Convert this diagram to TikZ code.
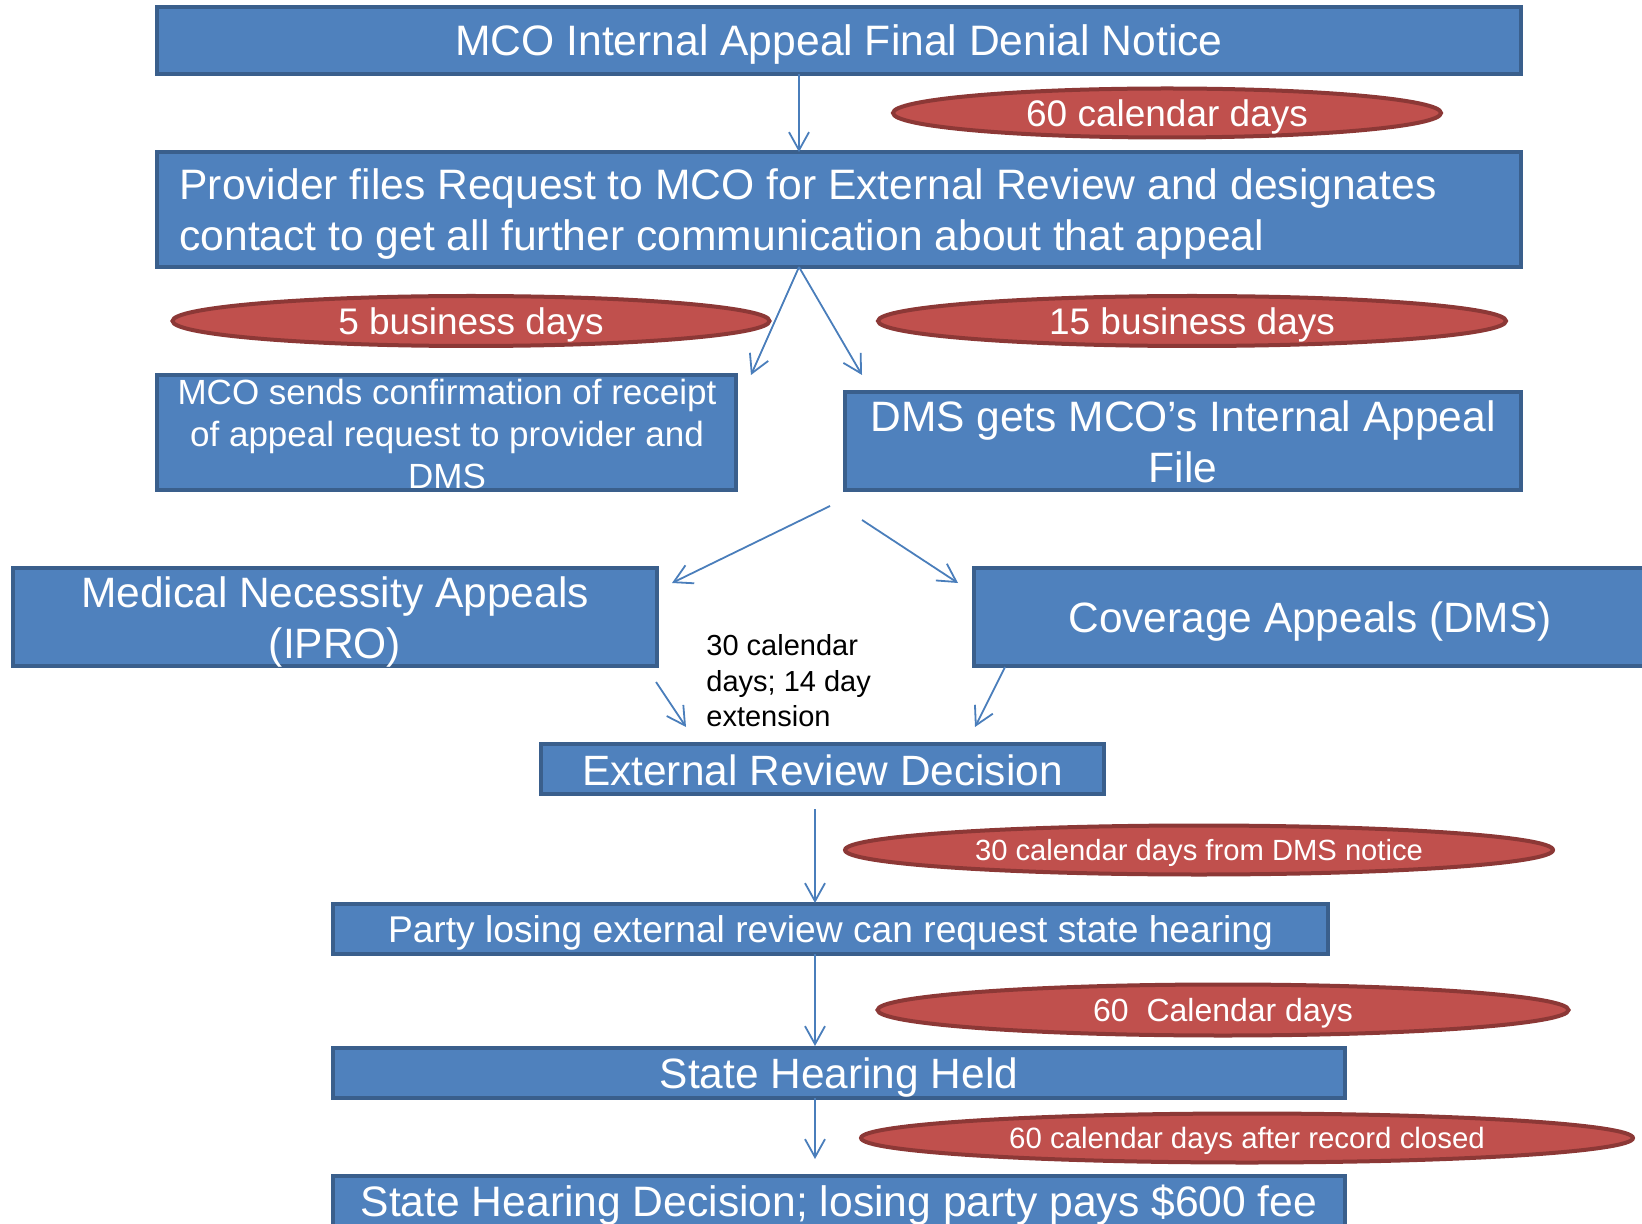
\documentclass[tikz,border=0pt]{standalone}
\usepackage{fontspec}
\setmainfont{Liberation Sans}
\usetikzlibrary{arrows.meta,shapes.geometric}
\definecolor{boxfill}{HTML}{4F81BD}
\definecolor{boxline}{HTML}{3A5F8C}
\definecolor{ellfill}{HTML}{C0504D}
\definecolor{ellline}{HTML}{8C3836}
\definecolor{arrcol}{HTML}{4A7EBB}
\tikzset{
  bluebox/.style={draw=boxline, fill=boxfill, line width=2pt, rectangle, inner sep=0pt},
  redell/.style={draw=ellline, fill=ellfill, line width=2pt, ellipse, inner sep=0pt},
  wtext/.style={text=white, inner sep=0pt, align=center},
  dn/.style={yshift=-2.1pt},
  btext/.style={text=black, inner sep=0pt, align=left},
  arr/.style={draw=arrcol, line width=0.9pt, -{Straight Barb[length=9pt,width=10pt,line width=0.9pt]}},
}
\begin{document}
\begin{tikzpicture}[x=0.5pt,y=-0.5pt]
\useasboundingbox (0,0) rectangle (1642,1224);
\clip (0,0) rectangle (1642,1224);

% boxes
\node[bluebox, minimum width=682pt, minimum height=33.5pt] (b1) at (839,40.5) {};
\node[wtext, dn, font=\fontsize{21.3}{25.5}\selectfont] (t1) at (b1.center) {MCO Internal Appeal Final Denial Notice};

\node[bluebox, minimum width=682pt, minimum height=57.5pt] (b2) at (839,209.5) {};
\node[wtext, dn, align=left, anchor=west, font=\fontsize{21.3}{25.5}\selectfont] (t2) at (179,210) {Provider files Request to MCO for External Review and designates\\contact to get all further communication about that appeal};

\node[bluebox, minimum width=289.5pt, minimum height=57.5pt] (b3) at (446.5,432.5) {};
\node[wtext, font=\fontsize{17.5}{21}\selectfont] (t3) at (447,434) {MCO sends confirmation of receipt\\of appeal request to provider and\\DMS};

\node[bluebox, minimum width=338pt, minimum height=49pt] (b4) at (1183,441) {};
\node[wtext, font=\fontsize{21.25}{25.3}\selectfont] (t4) at (1183,442) {DMS gets MCO’s Internal Appeal\\File};

\node[bluebox, minimum width=322pt, minimum height=49pt] (b5) at (335,617) {};
\node[wtext, dn, font=\fontsize{21.25}{25.3}\selectfont] (t5) at (335,618) {Medical Necessity Appeals\\(IPRO)};

\node[bluebox, minimum width=336pt, minimum height=49pt] (b6) at (1310,617) {};
\node[wtext, dn, font=\fontsize{21.2}{25.3}\selectfont] (t6) at (b6.center) {Coverage Appeals (DMS)};

\node[bluebox, minimum width=281.5pt, minimum height=25pt] (b7) at (822.5,769) {};
\node[wtext, yshift=-0.6pt, font=\fontsize{21.2}{25.3}\selectfont] (t7) at (b7.center) {External Review Decision};

\node[bluebox, minimum width=497.5pt, minimum height=25pt] (b8) at (830.5,929) {};
\node[wtext, dn, font=\fontsize{18.6}{22.3}\selectfont] (t8) at (b8.center) {Party losing external review can request state hearing};

\node[bluebox, minimum width=506pt, minimum height=25pt] (b9) at (839,1073) {};
\node[wtext, dn, font=\fontsize{21.2}{25.3}\selectfont] (t9) at (b9.center) {State Hearing Held};

\node[bluebox, minimum width=506pt, minimum height=26pt] (b10) at (839,1202) {};
\node[wtext, yshift=-1.6pt, font=\fontsize{21.3}{25.5}\selectfont] (t10) at (b10.center) {State Hearing Decision; losing party pays \$600 fee};

% ellipses
\node[redell, minimum width=274pt, minimum height=24.5pt] (e1) at (1167,113) {};
\node[wtext, dn, font=\fontsize{18.5}{22.2}\selectfont] (et1) at (e1.center) {60 calendar days};

\node[redell, minimum width=298.5pt, minimum height=25pt] (e2) at (471,321) {};
\node[wtext, dn, font=\fontsize{18.5}{22.2}\selectfont] (et2) at (e2.center) {5 business days};

\node[redell, minimum width=314pt, minimum height=25pt] (e3) at (1192,321) {};
\node[wtext, dn, font=\fontsize{18.5}{22.2}\selectfont] (et3) at (e3.center) {15 business days};

\node[redell, minimum width=354pt, minimum height=24.5pt] (e4) at (1199,850) {};
\node[wtext, yshift=-1.6pt, font=\fontsize{14.6}{17.5}\selectfont] (et4) at (e4.center) {30 calendar days from DMS notice};

\node[redell, minimum width=345.5pt, minimum height=25.5pt] (e5) at (1223,1010) {};
\node[wtext, yshift=-1.6pt, font=\fontsize{16}{19.2}\selectfont] (et5) at (e5.center) {60\ \ Calendar days};

\node[redell, minimum width=386pt, minimum height=24.5pt] (e6) at (1247,1138) {};
\node[wtext, yshift=-1.6pt, font=\fontsize{14.7}{17.6}\selectfont] (et6) at (e6.center) {60 calendar days after record closed};

% free text
\node[btext, anchor=west, font=\fontsize{14.5}{17.8}\selectfont] (note) at (706,681) {30 calendar\\days; 14 day\\extension};

% arrow end points
\coordinate (a1s) at (799,74);    \coordinate (a1e) at (799,152);
\coordinate (a2s) at (799,267);   \coordinate (a2e) at (751,375);
\coordinate (a3e) at (862,375);
\coordinate (a4s) at (830,506);   \coordinate (a4e) at (672,583);
\coordinate (a5s) at (862,520);   \coordinate (a5e) at (958,583);
\coordinate (a6s) at (656,682);   \coordinate (a6e) at (686,727);
\coordinate (a7s) at (1005,667);  \coordinate (a7e) at (975,727);
\coordinate (a8s) at (815,809);   \coordinate (a8e) at (815,903);
\coordinate (a9s) at (815,954);   \coordinate (a9e) at (815,1046);
\coordinate (a10s) at (815,1098); \coordinate (a10e) at (815,1159);

\draw[arr] (a1s) -- (a1e);
\draw[arr] (a2s) -- (a2e);
\draw[arr] (a2s) -- (a3e);
\draw[arr] (a4s) -- (a4e);
\draw[arr] (a5s) -- (a5e);
\draw[arr] (a6s) -- (a6e);
\draw[arr] (a7s) -- (a7e);
\draw[arr] (a8s) -- (a8e);
\draw[arr] (a9s) -- (a9e);
\draw[arr] (a10s) -- (a10e);
\end{tikzpicture}
\end{document}
